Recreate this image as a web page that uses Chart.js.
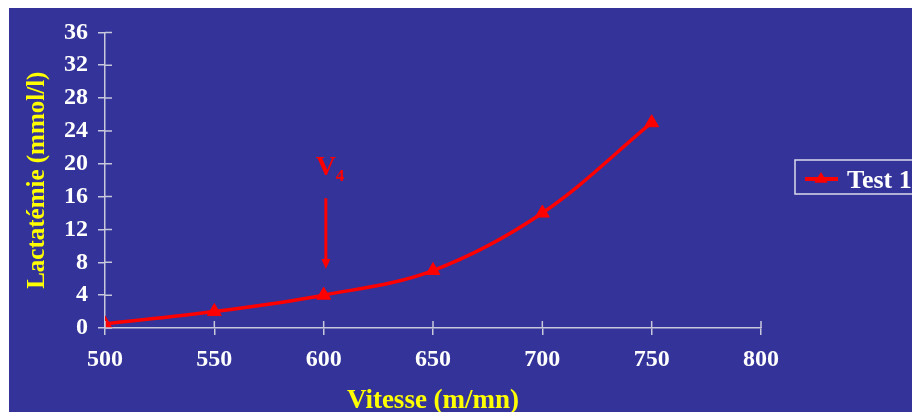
<!DOCTYPE html>
<html>
<head>
<meta charset="utf-8">
<script src="https://cdn.jsdelivr.net/npm/chart.js@4"></script>
<style>
    body { margin: 0; background: #ffffff; }
    #wrap {
        position: absolute;
        left: 9px;
        top: 8px;
        width: 903px;
        height: 404px;
        background: #333399;
    }
</style>
</head>
<body>
<div id="wrap"><canvas id="lactateChart"></canvas></div>
<script>
// Data
const speeds = [500, 550, 600, 650, 700, 750];
const lactate = [0.5, 2, 4, 7, 14, 25];
const xTickValues = [500, 550, 600, 650, 700, 750, 800];
const yTickValues = [0, 4, 8, 12, 16, 20, 24, 28, 32, 36];

const SERIF = '"Liberation Serif", "Times New Roman", serif';
const AXIS_COLOR = '#c8c8dc';
const RED = '#ff0000';

// Inner half of the tick marks (ticks cross the axis lines)
const crossTicks = {
    id: 'crossTicks',
    afterDatasetsDraw(chart) {
        const { ctx, scales: { x, y } } = chart;
        ctx.save();
        ctx.strokeStyle = AXIS_COLOR;
        ctx.lineWidth = 1.5;
        ctx.beginPath();
        x.ticks.forEach(t => {
            const px = x.getPixelForValue(t.value);
            ctx.moveTo(px, y.bottom);
            ctx.lineTo(px, y.bottom - 7);
        });
        y.ticks.forEach(t => {
            const py = y.getPixelForValue(t.value);
            ctx.moveTo(x.left, py);
            ctx.lineTo(x.left + 7, py);
        });
        ctx.stroke();
        ctx.restore();
    }
};

// V4 annotation: label + arrow pointing at the curve
const v4Marker = {
    id: 'v4Marker',
    afterDatasetsDraw(chart) {
        const { ctx, scales: { x, y } } = chart;
        const px = x.getPixelForValue(601);
        const top = y.getPixelForValue(15.8);
        const bottom = y.getPixelForValue(7.2);
        ctx.save();
        ctx.fillStyle = RED;
        ctx.strokeStyle = RED;
        ctx.font = 'bold 28px ' + SERIF;
        ctx.textBaseline = 'alphabetic';
        ctx.textAlign = 'left';
        ctx.fillText('V', px - 10, y.getPixelForValue(18.6));
        ctx.font = 'bold 17px ' + SERIF;
        ctx.fillText('4', px + 10, y.getPixelForValue(17.9));
        ctx.lineWidth = 3;
        ctx.beginPath();
        ctx.moveTo(px, top);
        ctx.lineTo(px, bottom - 8);
        ctx.stroke();
        ctx.beginPath();
        ctx.moveTo(px - 4.5, bottom - 10);
        ctx.lineTo(px + 4.5, bottom - 10);
        ctx.lineTo(px, bottom);
        ctx.closePath();
        ctx.fill();
        ctx.restore();
    }
};

// Legend box on the right
const boxLegend = {
    id: 'boxLegend',
    afterDraw(chart) {
        const { ctx } = chart;
        const ds = chart.data.datasets[0];
        const bx = 786, by = 152, bw = 140, bh = 34;
        ctx.save();
        ctx.strokeStyle = '#dcdcec';
        ctx.lineWidth = 1.5;
        ctx.strokeRect(bx, by, bw, bh);
        const ly = by + 19;
        ctx.strokeStyle = ds.borderColor;
        ctx.lineWidth = 4;
        ctx.beginPath();
        ctx.moveTo(bx + 10, ly);
        ctx.lineTo(bx + 43, ly);
        ctx.stroke();
        ctx.fillStyle = ds.pointBackgroundColor;
        const cx = bx + 26, r = 7;
        ctx.beginPath();
        ctx.moveTo(cx, ly - r);
        ctx.lineTo(cx + r * 0.95, ly + r * 0.55);
        ctx.lineTo(cx - r * 0.95, ly + r * 0.55);
        ctx.closePath();
        ctx.fill();
        ctx.fillStyle = '#ffffff';
        ctx.font = 'bold 26px ' + SERIF;
        ctx.textBaseline = 'alphabetic';
        ctx.fillText(ds.label, bx + 52, by + 28);
        ctx.restore();
    }
};

new Chart(document.getElementById('lactateChart'), {
    type: 'line',
    data: {
        datasets: [{
            label: 'Test 1',
            data: speeds.map((s, i) => ({ x: s, y: lactate[i] })),
            borderColor: RED,
            borderWidth: 3.5,
            backgroundColor: RED,
            pointBackgroundColor: RED,
            pointBorderColor: RED,
            pointBorderWidth: 1,
            pointStyle: 'triangle',
            pointRadius: 8,
            tension: 0.35,
            fill: false
        }]
    },
    options: {
        responsive: true,
        maintainAspectRatio: false,
        animation: false,
        layout: { padding: { top: 19, right: 151, left: 0, bottom: 0 } },
        plugins: {
            legend: { display: false },
            tooltip: { enabled: false }
        },
        scales: {
            x: {
                type: 'linear',
                min: 500,
                max: 800,
                afterBuildTicks: s => { s.ticks = xTickValues.map(v => ({ value: v })); },
                afterFit: s => { s.height = 84; },
                grid: { drawOnChartArea: false, drawTicks: true, tickLength: 7, color: AXIS_COLOR, lineWidth: 1.5 },
                border: { color: AXIS_COLOR, width: 1.5 },
                ticks: {
                    color: '#ffffff',
                    padding: 10,
                    maxRotation: 0,
                    font: { family: SERIF, size: 24, weight: 'bold' }
                },
                title: {
                    display: true,
                    text: 'Vitesse (m/mn)',
                    color: '#ffff00',
                    padding: { top: 0, bottom: -5 },
                    font: { family: SERIF, size: 27, weight: 'bold' }
                }
            },
            y: {
                min: 0,
                max: 36,
                afterBuildTicks: s => { s.ticks = yTickValues.map(v => ({ value: v })); },
                afterFit: s => { s.width = 96; },
                grid: { drawOnChartArea: false, drawTicks: true, tickLength: 7, color: AXIS_COLOR, lineWidth: 1.5 },
                border: { color: AXIS_COLOR, width: 1.5 },
                ticks: {
                    color: '#ffffff',
                    padding: 10,
                    font: { family: SERIF, size: 24, weight: 'bold' }
                },
                title: {
                    display: true,
                    text: 'Lactatémie (mmol/l)',
                    color: '#ffff00',
                    padding: { top: 14, bottom: 0 },
                    font: { family: SERIF, size: 25, weight: 'bold' }
                }
            }
        }
    },
    plugins: [crossTicks, v4Marker, boxLegend]
});
</script>
</body>
</html>
